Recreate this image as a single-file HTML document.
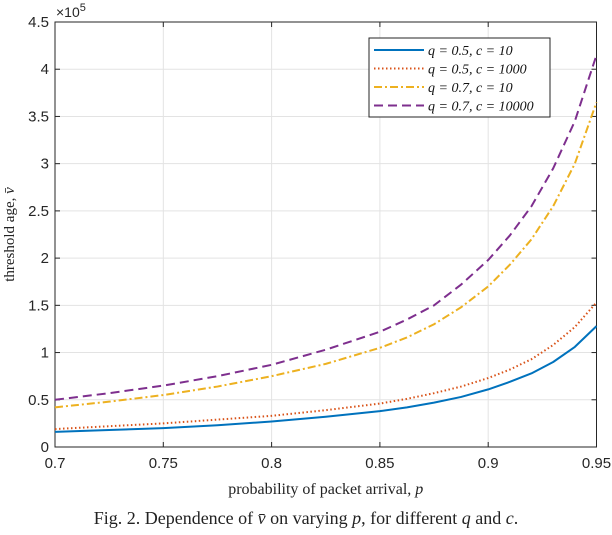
<!DOCTYPE html>
<html><head><meta charset="utf-8"><style>
body{margin:0;background:#fff;}
svg{font-family:"Liberation Sans",sans-serif;}
.serif{font-family:"Liberation Serif",serif;}
</style></head><body>
<svg id="chart" width="612" height="530" xmlns="http://www.w3.org/2000/svg"></svg>
<script>
const xValues=[0.7,0.725,0.75,0.775,0.8,0.825,0.85,0.8625,0.875,0.8875,0.9,0.91,0.92,0.93,0.94,0.95];
const seriesA=[0.16,0.18,0.2,0.23,0.27,0.32,0.38,0.42,0.47,0.53,0.61,0.69,0.78,0.9,1.06,1.28];
const seriesB=[0.19,0.22,0.25,0.29,0.33,0.39,0.46,0.51,0.57,0.64,0.73,0.82,0.93,1.08,1.27,1.53];
const seriesC=[0.42,0.48,0.55,0.64,0.75,0.88,1.05,1.16,1.3,1.48,1.7,1.93,2.2,2.55,3.0,3.65];
const seriesD=[0.5,0.57,0.65,0.75,0.87,1.03,1.22,1.35,1.5,1.72,1.98,2.24,2.55,2.95,3.45,4.15];
const xTicks=[0.7,0.75,0.8,0.85,0.9,0.95];
const yTicks=[0,0.5,1,1.5,2,2.5,3,3.5,4,4.5];
const legendLabels=["q = 0.5, c = 10","q = 0.5, c = 1000","q = 0.7, c = 10","q = 0.7, c = 10000"];
const L=55,R=596.5,T=22,B=447;
const sx=v=>L+(v-0.7)/(0.25)*(R-L);
const sy=v=>B-(v/4.5)*(B-T);
const svg=document.getElementById('chart');
const NS='http://www.w3.org/2000/svg';
function mk(tag,attrs,parent){const e=document.createElementNS(NS,tag);for(const k in attrs)e.setAttribute(k,attrs[k]);(parent||svg).appendChild(e);return e;}
xTicks.forEach(t=>{const l=mk('line',{x1:sx(t),x2:sx(t),y1:T,y2:B,stroke:'#e3e3e3','stroke-width':1});


const tx=mk('text',{x:sx(t),y:B+21,'text-anchor':'middle','font-size':15,fill:'#262626'});tx.textContent=String(t);

});
yTicks.forEach(t=>{const l=mk('line',{x1:L,x2:R,y1:sy(t),y2:sy(t),stroke:'#e3e3e3','stroke-width':1});


const tx=mk('text',{x:L-6,y:sy(t)+5,'text-anchor':'end','font-size':15,fill:'#262626'});tx.textContent=String(t);


mk('line',{x1:L,x2:L+5,y1:sy(t),y2:sy(t),stroke:'#262626'});mk('line',{x1:R,x2:R-5,y1:sy(t),y2:sy(t),stroke:'#262626'});});
xTicks.forEach(t=>{mk('line',{x1:sx(t),x2:sx(t),y1:B,y2:B-5,stroke:'#262626'});mk('line',{x1:sx(t),x2:sx(t),y1:T,y2:T+5,stroke:'#262626'});});
const frame=mk('rect',{x:L,y:T,width:R-L,height:B-T,fill:'none',stroke:'#262626','stroke-width':1});


const styles=[{c:'#0072bd',d:'',w:2},{c:'#d95319',d:'1.5 2.5',w:2},{c:'#edb120',d:'8 3 2 3',w:2},{c:'#7e2f8e',d:'9 5',w:2}];
const data=[seriesA,seriesB,seriesC,seriesD];
const names=['line-q05-c10','line-q05-c1000','line-q07-c10','line-q07-c10000'];
data.forEach((s,i)=>{const p=mk('polyline',{points:s.map((v,j)=>sx(xValues[j])+','+sy(v)).join(' '),fill:'none',stroke:styles[i].c,'stroke-width':styles[i].w,'stroke-dasharray':styles[i].d,'stroke-linejoin':'round'});

});
const ex=mk('text',{x:56,y:17,'font-size':14,fill:'#262626'});ex.innerHTML='×10<tspan dy="-6" font-size="11">5</tspan>';


const lg=mk('g',{});


mk('rect',{x:369,y:38,width:181,height:79,fill:'#fff',stroke:'#262626'},lg);
legendLabels.forEach((lab,i)=>{const y=50+i*18.5;
mk('line',{x1:374,x2:424,y1:y,y2:y,stroke:styles[i].c,'stroke-width':2,'stroke-dasharray':styles[i].d},lg);
const t=mk('text',{x:428,y:y+5,'font-size':14,'font-style':'italic',class:'serif',fill:'#111'},lg);t.textContent=lab;

});
const xt=mk('text',{x:(L+R)/2,y:494,'text-anchor':'middle','font-size':16,class:'serif',fill:'#222'});xt.innerHTML='probability of packet arrival, <tspan font-style="italic">p</tspan>';


const yt=mk('text',{x:0,y:0,'text-anchor':'middle','font-size':15,class:'serif',fill:'#222',transform:'translate(14,'+((T+B)/2)+') rotate(-90)'});yt.innerHTML='threshold age, <tspan font-style="italic">v̄</tspan>';


const cap=mk('text',{x:306,y:524,'text-anchor':'middle','font-size':18,class:'serif',fill:'#222'});cap.innerHTML='Fig. 2.  Dependence of <tspan font-style="italic">v̄</tspan> on varying <tspan font-style="italic">p</tspan>, for different <tspan font-style="italic">q</tspan> and <tspan font-style="italic">c</tspan>.';


</script>
</body></html>
